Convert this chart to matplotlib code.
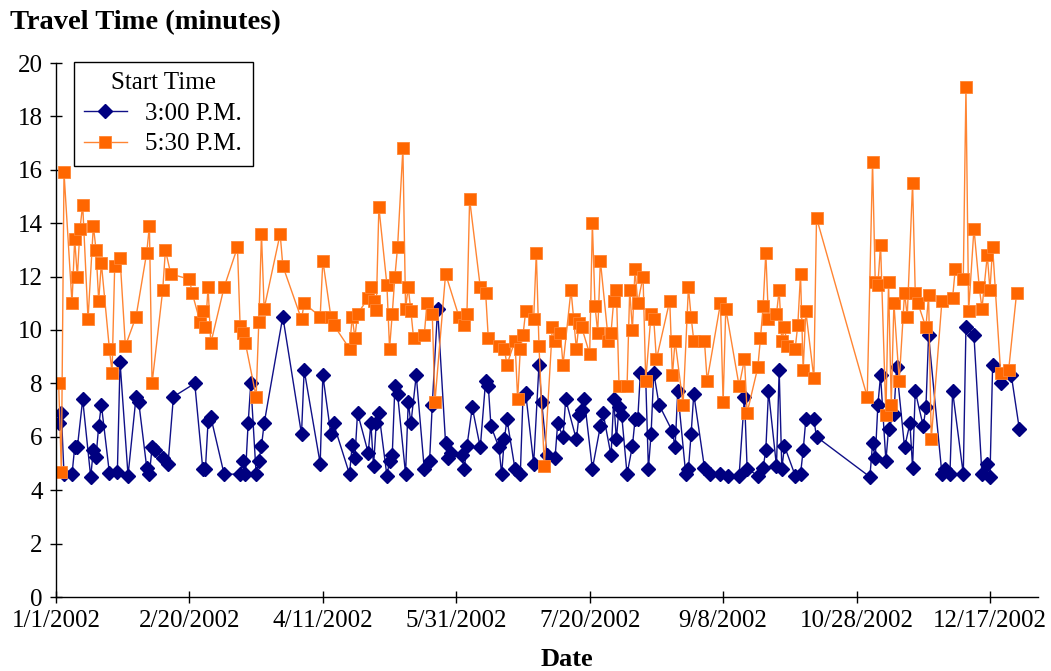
import numpy as np
import matplotlib
matplotlib.use("Agg")
import matplotlib.pyplot as plt
import matplotlib.dates as mdates
from matplotlib.ticker import FuncFormatter

plt.rcParams['font.family'] = ['Liberation Serif', 'DejaVu Serif']

# day offsets from 1/1/2002 and travel times (minutes)
days_3pm = [1, 2, 3, 6, 7, 8, 10, 13, 14, 15, 16, 17, 20, 23, 24, 27, 30, 31, 34, 35,
            36, 37, 40, 42, 44, 52, 55, 56, 57, 58, 63, 69, 70, 71, 72, 73, 75, 76, 77, 78,
            85, 92, 93, 99, 100, 103, 104, 110, 111, 112, 113, 117, 118, 119, 120, 121, 124, 125, 126, 127,
            128, 131, 132, 133, 135, 138, 140, 141, 143, 146, 147, 148, 152, 153, 154, 156, 159, 161, 162, 163,
            166, 167, 168, 169, 172, 174, 175, 176, 179, 181, 182, 184, 187, 188, 190, 191, 195, 196, 197, 198,
            201, 204, 205, 208, 209, 210, 211, 212, 214, 216, 217, 218, 219, 221, 222, 223, 224, 226, 231, 232,
            233, 236, 237, 238, 239, 243, 245, 249, 252, 256, 258, 259, 263, 265, 266, 267, 270, 271, 272, 273,
            277, 279, 280, 281, 284, 285, 305, 306, 307, 308, 309, 311, 312, 314, 315, 318, 320, 321, 322, 325,
            326, 327, 332, 333, 335, 336, 340, 341, 344, 347, 349, 350, 351, 354, 358, 361]
time_3pm = [6.5, 6.9, 4.6, 4.6, 5.6, 5.6, 7.4, 4.5, 5.5, 5.25, 6.4, 7.2, 4.65, 4.7, 8.8, 4.55, 7.5, 7.3, 4.85, 4.6,
            5.6, 5.5, 5.2, 5.0, 7.5, 8.0, 4.8, 4.8, 6.6, 6.75, 4.6, 4.6, 5.1, 4.6, 6.5, 8.0, 4.6, 5.1, 5.65, 6.5,
            10.5, 6.1, 8.5, 5.0, 8.3, 6.1, 6.5, 4.6, 5.7, 5.2, 6.9, 5.4, 6.5, 4.9, 6.5, 6.9, 4.55, 5.1, 5.3, 7.9,
            7.6, 4.6, 7.3, 6.5, 8.3, 4.8, 5.1, 7.2, 10.8, 5.75, 5.2, 5.4, 5.3, 4.8, 5.65, 7.1, 5.6, 8.1, 7.9, 6.4,
            5.6, 4.6, 5.9, 6.65, 4.8, 4.6, 7.5, 7.65, 5.0, 8.7, 7.3, 5.3, 5.2, 6.5, 6.0, 7.4, 5.9, 6.8, 7.0, 7.4,
            4.8, 6.4, 6.9, 5.3, 7.4, 5.9, 7.1, 6.8, 4.6, 5.65, 6.65, 6.65, 8.4, 8.15, 4.8, 6.1, 8.4, 7.2, 6.2, 5.6,
            7.7, 4.6, 4.8, 6.1, 7.6, 4.85, 4.6, 4.6, 4.55, 4.55, 7.5, 4.8, 4.55, 4.85, 5.5, 7.7, 4.9, 8.5, 4.8, 5.65,
            4.55, 4.6, 5.5, 6.65, 6.65, 6.0, 4.5, 5.75, 5.2, 7.2, 8.3, 5.1, 6.3, 6.85, 8.6, 5.6, 6.5, 4.85, 7.7, 6.4,
            7.1, 9.8, 4.6, 4.8, 4.6, 7.7, 4.6, 10.1, 9.8, 4.6, 5.0, 4.5, 8.7, 8.0, 8.3, 6.3]

days_530pm = [1, 2, 3, 6, 7, 8, 9, 10, 12, 14, 15, 16, 17, 20, 21, 22, 24, 26, 30, 34,
              35, 36, 40, 41, 43, 50, 51, 54, 55, 56, 57, 58, 63, 68, 69, 70, 71, 75, 76, 77,
              78, 84, 85, 92, 93, 99, 100, 103, 104, 110, 111, 112, 113, 117, 118, 119, 120, 121, 124, 125,
              126, 127, 128, 130, 131, 132, 133, 134, 138, 139, 141, 142, 146, 151, 153, 154, 155, 159, 161, 162,
              166, 168, 169, 172, 173, 174, 175, 176, 179, 180, 181, 183, 186, 187, 189, 190, 193, 194, 195, 196,
              197, 200, 201, 202, 203, 204, 207, 208, 209, 210, 211, 214, 215, 216, 217, 218, 220, 221, 223, 224,
              225, 230, 231, 232, 235, 237, 238, 239, 243, 244, 249, 250, 251, 256, 258, 259, 263, 264, 265, 266,
              267, 270, 271, 272, 273, 274, 277, 278, 279, 280, 281, 284, 285, 304, 306, 307, 308, 309, 311, 312,
              313, 314, 316, 318, 319, 321, 322, 323, 326, 327, 328, 332, 336, 337, 340, 341, 342, 344, 346, 347,
              349, 350, 351, 354, 357, 360]
time_530pm = [8.0, 4.7, 15.9, 11.0, 13.4, 12.0, 13.8, 14.7, 10.4, 13.9, 13.0, 11.1, 12.5, 9.3, 8.4, 12.4, 12.7, 9.4, 10.5, 12.9,
              13.9, 8.0, 11.5, 13.0, 12.1, 11.9, 11.4, 10.3, 10.7, 10.1, 11.6, 9.5, 11.6, 13.1, 10.15, 9.9, 9.5, 7.5, 10.3, 13.6,
              10.8, 13.6, 12.4, 10.4, 11.0, 10.5, 12.6, 10.5, 10.2, 9.3, 10.5, 9.7, 10.6, 11.2, 11.6, 11.1, 10.75, 14.6, 11.7, 9.3,
              10.6, 12.0, 13.1, 16.8, 10.8, 11.6, 10.7, 9.7, 9.8, 11.0, 10.6, 7.3, 12.1, 10.5, 10.2, 10.6, 14.9, 11.6, 11.4, 9.7,
              9.4, 9.3, 8.7, 9.6, 7.4, 9.3, 9.8, 10.7, 10.4, 12.9, 9.4, 4.9, 10.1, 9.6, 9.9, 8.7, 11.5, 10.4, 9.3, 10.25,
              10.1, 9.1, 14.0, 10.9, 9.9, 12.6, 9.6, 9.9, 11.1, 11.5, 7.9, 7.9, 11.5, 10.0, 12.3, 11.0, 12.0, 8.1, 10.6, 10.4,
              8.9, 11.1, 8.3, 9.6, 7.2, 11.6, 10.5, 9.6, 9.6, 8.1, 11.0, 7.3, 10.8, 7.9, 8.9, 6.9, 8.6, 9.7, 10.9, 12.9,
              10.4, 10.6, 11.5, 9.6, 10.1, 9.4, 9.3, 10.2, 12.1, 8.5, 10.7, 8.2, 14.2, 7.5, 16.3, 11.8, 11.7, 13.2, 6.8, 11.8,
              7.2, 11.0, 8.1, 11.4, 10.5, 15.5, 11.4, 11.0, 10.1, 11.3, 5.9, 11.1, 11.2, 12.3, 11.9, 19.1, 10.7, 13.8, 11.6, 10.8,
              12.8, 11.5, 13.1, 8.4, 8.5, 11.4]

start = np.datetime64('2002-01-01')
dates_3pm = start + np.array(days_3pm)
dates_530pm = start + np.array(days_530pm)

fig = plt.figure(figsize=(10.51, 6.71), dpi=100)
ax = fig.add_axes([56/1051, 74/671, 982/1051, 534/671])

ax.plot(dates_3pm, time_3pm, color='#101088', lw=1.0, marker='D', ms=7,
        mfc='#000080', mec='#000080', label='3:00 P.M.')
ax.plot(dates_530pm, time_530pm, color='#FF8533', lw=1.0, marker='s', ms=8,
        mfc='#FF6600', mec='#FF8533', mew=0.6, label='5:30 P.M.')

ax.set_ylim(0, 20)
ax.set_yticks(np.arange(0, 21, 2))
ax.set_xlim(start, start + np.timedelta64(368, 'D'))
ax.set_xticks(start + np.arange(0, 351, 50))

def fmt_date(x, pos):
    d = mdates.num2date(x)
    return f"{d.month}/{d.day}/{d.year}"

ax.xaxis.set_major_formatter(FuncFormatter(fmt_date))

for s in ['top', 'right']:
    ax.spines[s].set_visible(False)
for s in ['left', 'bottom']:
    ax.spines[s].set_linewidth(1.0)
ax.tick_params(direction='inout', length=9, width=1.0, labelsize=18, pad=5)
ax.tick_params(axis='y', pad=5)

leg = ax.legend(title='Start Time', loc='upper left', bbox_to_anchor=(0.018, 1.002),
                borderaxespad=0, fancybox=False, framealpha=1, edgecolor='black',
                fontsize=18, title_fontsize=18, handlelength=1.7, handletextpad=0.75,
                labelspacing=0.32, borderpad=0.42)
leg.get_frame().set_linewidth(1.0)

fig.text(10/1051, 1 - 23/671, 'Travel Time (minutes)', fontsize=20.5, fontweight='bold', va='center', ha='left')
fig.text(567/1051, 1 - 660/671, 'Date', fontsize=19, fontweight='bold', va='center', ha='center')

fig.savefig('out.png', dpi=100)
